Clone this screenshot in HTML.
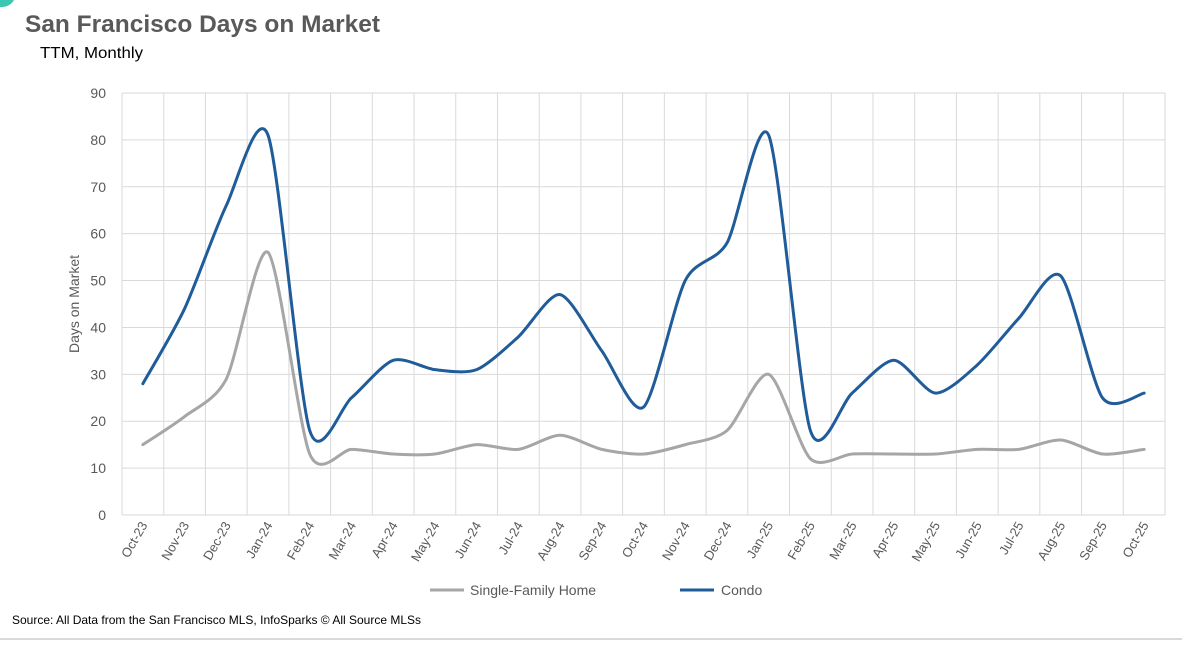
<!DOCTYPE html>
<html><head><meta charset="utf-8"><style>
body{margin:0;background:#fff;width:1182px;height:642px;overflow:hidden;font-family:"Liberation Sans",sans-serif}
</style></head><body>
<svg id="chart" width="1182" height="642" xmlns="http://www.w3.org/2000/svg" font-family="Liberation Sans, sans-serif">
<path d="M0,0 L14,0 A14,14 0 0 1 0,7 Z" fill="#3cc8b0"/>
<text x="25" y="32" font-size="24" font-weight="bold" fill="#595959" textLength="355" lengthAdjust="spacingAndGlyphs">San Francisco Days on Market</text>
<text x="40" y="58" font-size="16" fill="#000" textLength="103" lengthAdjust="spacingAndGlyphs">TTM, Monthly</text>
<g id="grid"></g><g id="axes"></g><g id="series"></g>
<text transform="translate(79,304) rotate(-90)" text-anchor="middle" font-size="14" fill="#595959">Days on Market</text>
<g>
<line x1="430" y1="590" x2="464" y2="590" stroke="#a6a6a6" stroke-width="3"/>
<text x="470" y="595" font-size="14" fill="#595959">Single-Family Home</text>
<line x1="680" y1="590" x2="714" y2="590" stroke="#1f5c99" stroke-width="3"/>
<text x="721" y="595" font-size="14" fill="#595959">Condo</text>
</g>
<text x="12" y="624" font-size="12" fill="#000">Source: All Data from the San Francisco MLS, InfoSparks © All Source MLSs</text>
<line x1="0" y1="639" x2="1182" y2="639" stroke="#d9d9d9" stroke-width="2"/>
</svg>
<script>
const categories=["Oct-23","Nov-23","Dec-23","Jan-24","Feb-24","Mar-24","Apr-24","May-24","Jun-24","Jul-24","Aug-24","Sep-24","Oct-24","Nov-24","Dec-24","Jan-25","Feb-25","Mar-25","Apr-25","May-25","Jun-25","Jul-25","Aug-25","Sep-25","Oct-25"];
const sfhValues=[15,21,29,56,13,14,13,13,15,14,17,14,13,15,18,30,12,13,13,13,14,14,16,13,14];
const condoValues=[28,44,66,81,18,25,33,31,31,38,47,35,23,50,58,81,18,26,33,26,32,42,51,25,26];
const yTicks=[0,10,20,30,40,50,60,70,80,90];
const NS="http://www.w3.org/2000/svg";
const L=122,R=1165,T=93,B=515,yMax=90;
const bw=(R-L)/categories.length;
const xs=i=>L+bw*(i+0.5);
const ys=v=>B-(v/yMax)*(B-T);
function mk(tag,attrs,parent){const e=document.createElementNS(NS,tag);for(const k in attrs)e.setAttribute(k,attrs[k]);parent.appendChild(e);return e;}
const grid=document.getElementById('grid'),axes=document.getElementById('axes'),ser=document.getElementById('series');
yTicks.forEach(t=>{
 const l=mk('line',{x1:L,x2:R,y1:ys(t),y2:ys(t),stroke:'#d9d9d9','stroke-width':1},grid);
 
 
 const tx=mk('text',{x:106,y:ys(t)+5,'text-anchor':'end','font-size':14,fill:'#595959'},axes);
 tx.textContent=t;
 
 
});
for(let i=0;i<=categories.length;i++){
 const x=L+bw*i;
 const l=mk('line',{x1:x,x2:x,y1:T,y2:B,stroke:'#d9d9d9','stroke-width':1},grid);
 
 
}
categories.forEach((c,i)=>{
 const x=xs(i)+5,y=B+10;
 const tx=mk('text',{x:x,y:y,'text-anchor':'end','font-size':13,fill:'#595959',transform:`rotate(-60 ${x} ${y})`},axes);
 tx.textContent=c;
 
 
});
function smooth(vals){
 const p=vals.map((v,i)=>[xs(i),ys(v)]);
 let d=`M${p[0][0]},${p[0][1]}`;
 const k=0.13;
 for(let i=0;i<p.length-1;i++){
  const p0=p[Math.max(0,i-1)],p1=p[i],p2=p[i+1],p3=p[Math.min(p.length-1,i+2)];
  const c1=[p1[0]+(p2[0]-p0[0])*k,p1[1]+(p2[1]-p0[1])*k];
  const c2=[p2[0]-(p3[0]-p1[0])*k,p2[1]-(p3[1]-p1[1])*k];
  d+=` C${c1[0]},${c1[1]} ${c2[0]},${c2[1]} ${p2[0]},${p2[1]}`;
 }
 return d;
}
const s1=mk('path',{d:smooth(sfhValues),fill:'none',stroke:'#a6a6a6','stroke-width':3,'stroke-linecap':'round'},ser);


const s2=mk('path',{d:smooth(condoValues),fill:'none',stroke:'#1f5c99','stroke-width':3,'stroke-linecap':'round'},ser);


</script>
</body></html>
